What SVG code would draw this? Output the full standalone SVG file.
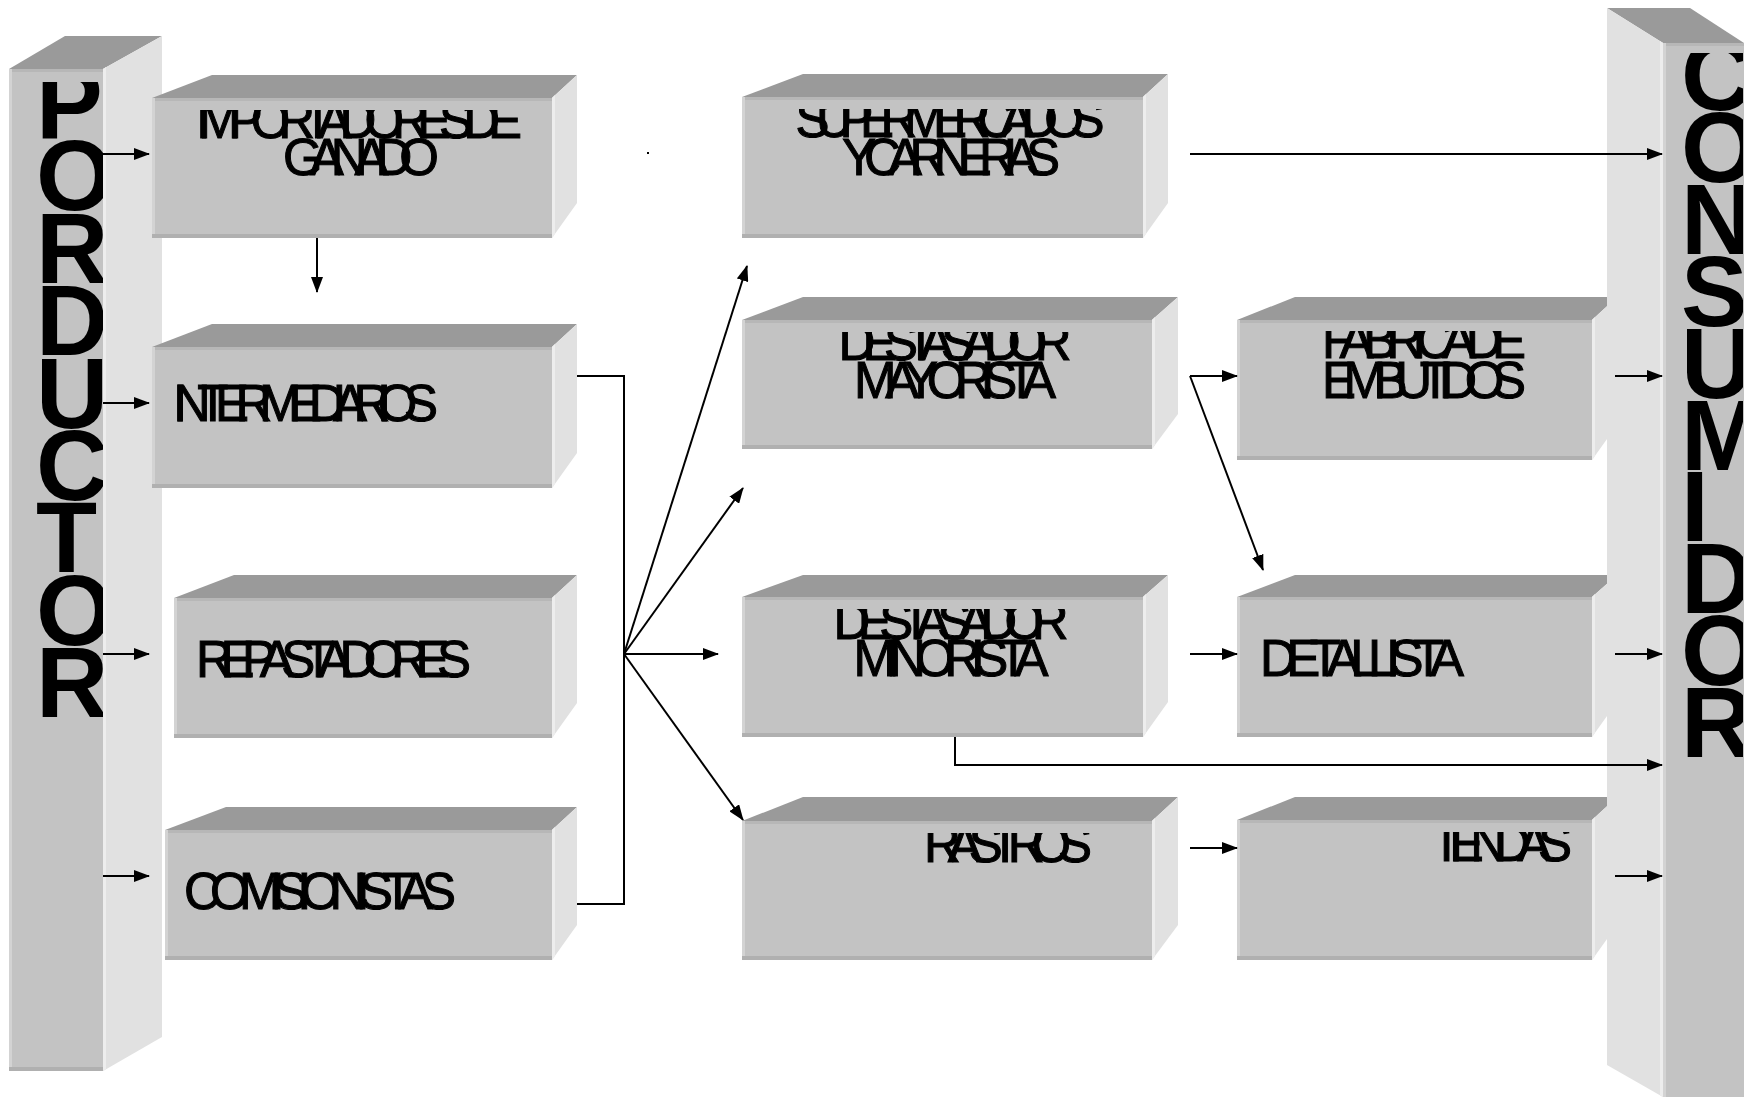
<svg xmlns="http://www.w3.org/2000/svg" width="1749" height="1099" viewBox="0 0 1749 1099">
<style>
.front{fill:#c3c3c3}
.top{fill:#9a9a9a}
.side{fill:#e1e1e1}
.ltop{fill:#b7b7b7}
.lleft{fill:#d3d3d3}
.lbot{fill:#b0b0b0}
.lside{fill:#ededed}
.lbl{font-family:"Liberation Sans",Arial,sans-serif;font-size:51px;fill:#000;stroke:#000;stroke-width:1}
.big{font-family:"Liberation Sans",Arial,sans-serif;font-size:100px;font-weight:bold;fill:#000}
.conn{fill:none;stroke:#000;stroke-width:2}
</style>
<defs>
<marker id="ah" markerWidth="16" markerHeight="12" refX="15" refY="6" orient="auto" markerUnits="userSpaceOnUse"><path d="M0,0 L16,6 L0,12 z" fill="#000"/></marker>
<clipPath id="cpProd" clipPathUnits="userSpaceOnUse"><rect x="9" y="82" width="94" height="989"/></clipPath>
<clipPath id="cpCons" clipPathUnits="userSpaceOnUse"><rect x="1663" y="53" width="80" height="1044"/></clipPath>
<clipPath id="cpImp" clipPathUnits="userSpaceOnUse"><rect x="152" y="110" width="400" height="128"/></clipPath>
<clipPath id="cpSup" clipPathUnits="userSpaceOnUse"><rect x="742" y="109" width="401" height="129"/></clipPath>
<clipPath id="cpMay" clipPathUnits="userSpaceOnUse"><rect x="742" y="332" width="410" height="117"/></clipPath>
<clipPath id="cpMin" clipPathUnits="userSpaceOnUse"><rect x="742" y="609" width="401" height="128"/></clipPath>
<clipPath id="cpRas" clipPathUnits="userSpaceOnUse"><rect x="742" y="833" width="410" height="127"/></clipPath>
<clipPath id="cpFab" clipPathUnits="userSpaceOnUse"><rect x="1237" y="331" width="355" height="129"/></clipPath>
<clipPath id="cpTie" clipPathUnits="userSpaceOnUse"><rect x="1237" y="832" width="355" height="128"/></clipPath>
</defs>
<rect x="0" y="0" width="1749" height="1099" fill="#fff"/>

<g id="productor">
<polygon class="top" points="9,69 65,36 162,36 103,69"/>
<polygon class="side" points="103,69 162,36 162,1037 103,1071"/>
<polygon class="lside" points="103,69 106,67 106,1069 103,1071"/>
<rect class="front" x="9" y="69" width="94" height="1002"/>
<rect class="ltop" x="9" y="69" width="94" height="3"/>
<rect class="lleft" x="9" y="69" width="3" height="1002"/>
<rect class="lbot" x="9" y="1067" width="94" height="4"/>
<g clip-path="url(#cpProd)">
<text class="big" x="36" y="138">P</text>
<text class="big" x="36" y="210">O</text>
<text class="big" x="36" y="283">R</text>
<text class="big" x="36" y="355">D</text>
<text class="big" x="36" y="428">U</text>
<text class="big" x="36" y="500">C</text>
<text class="big" x="36" y="572">T</text>
<text class="big" x="36" y="645">O</text>
<text class="big" x="36" y="717">R</text>
</g>
</g>

<g id="importadores">
<polygon class="top" points="152,98 212,75 577,75 552,98"/>
<polygon class="side" points="552,98 577,75 577,203 552,238"/>
<polygon class="lside" points="552,98 555,95 555,234 552,238"/>
<rect class="front" x="152" y="98" width="400" height="140"/>
<rect class="ltop" x="152" y="98" width="400" height="3"/>
<rect class="lleft" x="152" y="98" width="3" height="140"/>
<rect class="lbot" x="152" y="234" width="400" height="4"/>
<g clip-path="url(#cpImp)">
<text class="lbl" x="359" y="138" text-anchor="middle" textLength="326" lengthAdjust="spacing">IMPORTADORES DE</text>
<text class="lbl" x="361" y="175" text-anchor="middle" textLength="156" lengthAdjust="spacing">GANADO</text>
</g>
</g>

<g id="intermediarios">
<polygon class="top" points="152,347 212,324 577,324 552,347"/>
<polygon class="side" points="552,347 577,324 577,453 552,488"/>
<polygon class="lside" points="552,347 555,344 555,484 552,488"/>
<rect class="front" x="152" y="347" width="400" height="141"/>
<rect class="ltop" x="152" y="347" width="400" height="3"/>
<rect class="lleft" x="152" y="347" width="3" height="141"/>
<rect class="lbot" x="152" y="484" width="400" height="4"/>
<text class="lbl" x="173" y="421" textLength="265" lengthAdjust="spacing">INTERMEDIARIOS</text>
</g>

<g id="repastadores">
<polygon class="top" points="174,598 234,575 577,575 552,598"/>
<polygon class="side" points="552,598 577,575 577,703 552,738"/>
<polygon class="lside" points="552,598 555,595 555,734 552,738"/>
<rect class="front" x="174" y="598" width="378" height="140"/>
<rect class="ltop" x="174" y="598" width="378" height="3"/>
<rect class="lleft" x="174" y="598" width="3" height="140"/>
<rect class="lbot" x="174" y="734" width="378" height="4"/>
<text class="lbl" x="196" y="677" textLength="275" lengthAdjust="spacing">REPASTADORES</text>
</g>

<g id="comisionistas">
<polygon class="top" points="165,830 226,807 577,807 552,830"/>
<polygon class="side" points="552,830 577,807 577,925 552,960"/>
<polygon class="lside" points="552,830 555,827 555,956 552,960"/>
<rect class="front" x="165" y="830" width="387" height="130"/>
<rect class="ltop" x="165" y="830" width="387" height="3"/>
<rect class="lleft" x="165" y="830" width="3" height="130"/>
<rect class="lbot" x="165" y="956" width="387" height="4"/>
<text class="lbl" x="184" y="909" textLength="272" lengthAdjust="spacing">COMISIONISTAS</text>
</g>

<g id="supermercados">
<polygon class="top" points="742,97 803,74 1168,74 1143,97"/>
<polygon class="side" points="1143,97 1168,74 1168,203 1143,238"/>
<polygon class="lside" points="1143,97 1146,94 1146,234 1143,238"/>
<rect class="front" x="742" y="97" width="401" height="141"/>
<rect class="ltop" x="742" y="97" width="401" height="3"/>
<rect class="lleft" x="742" y="97" width="3" height="141"/>
<rect class="lbot" x="742" y="234" width="401" height="4"/>
<g clip-path="url(#cpSup)">
<text class="lbl" x="950" y="137" text-anchor="middle" textLength="309" lengthAdjust="spacing">SUPERMERCADOS</text>
<text class="lbl" x="951" y="175" text-anchor="middle" textLength="218" lengthAdjust="spacing">Y CARNERIAS</text>
</g>
</g>

<g id="destasador-mayorista">
<polygon class="top" points="742,320 803,297 1178,297 1152,320"/>
<polygon class="side" points="1152,320 1178,297 1178,414 1152,449"/>
<polygon class="lside" points="1152,320 1155,317 1155,445 1152,449"/>
<rect class="front" x="742" y="320" width="410" height="129"/>
<rect class="ltop" x="742" y="320" width="410" height="3"/>
<rect class="lleft" x="742" y="320" width="3" height="129"/>
<rect class="lbot" x="742" y="445" width="410" height="4"/>
<g clip-path="url(#cpMay)">
<text class="lbl" x="955" y="360" text-anchor="middle" textLength="233" lengthAdjust="spacing">DESTASADOR</text>
<text class="lbl" x="955" y="398" text-anchor="middle" textLength="202" lengthAdjust="spacing">MAYORISTA</text>
</g>
</g>

<g id="destasador-minorista">
<polygon class="top" points="742,597 803,575 1168,575 1143,597"/>
<polygon class="side" points="1143,597 1168,575 1168,702 1143,737"/>
<polygon class="lside" points="1143,597 1146,594 1146,733 1143,737"/>
<rect class="front" x="742" y="597" width="401" height="140"/>
<rect class="ltop" x="742" y="597" width="401" height="3"/>
<rect class="lleft" x="742" y="597" width="3" height="140"/>
<rect class="lbot" x="742" y="733" width="401" height="4"/>
<g clip-path="url(#cpMin)">
<text class="lbl" x="951" y="639" text-anchor="middle" textLength="235" lengthAdjust="spacing">DESTASADOR</text>
<text class="lbl" x="951" y="676" text-anchor="middle" textLength="195" lengthAdjust="spacing">MINORISTA</text>
</g>
</g>

<g id="rastros">
<polygon class="top" points="742,821 803,797 1178,797 1152,821"/>
<polygon class="side" points="1152,821 1178,797 1178,925 1152,960"/>
<polygon class="lside" points="1152,821 1155,818 1155,956 1152,960"/>
<rect class="front" x="742" y="821" width="410" height="139"/>
<rect class="ltop" x="742" y="821" width="410" height="3"/>
<rect class="lleft" x="742" y="821" width="3" height="139"/>
<rect class="lbot" x="742" y="956" width="410" height="4"/>
<g clip-path="url(#cpRas)">
<text class="lbl" x="924" y="862" textLength="168" lengthAdjust="spacing">RASTROS</text>
</g>
</g>

<g id="fabrica-embutidos">
<polygon class="top" points="1237,320 1295,297 1617,297 1592,320"/>
<polygon class="side" points="1592,320 1617,297 1617,425 1592,460"/>
<polygon class="lside" points="1592,320 1595,317 1595,456 1592,460"/>
<rect class="front" x="1237" y="320" width="355" height="140"/>
<rect class="ltop" x="1237" y="320" width="355" height="3"/>
<rect class="lleft" x="1237" y="320" width="3" height="140"/>
<rect class="lbot" x="1237" y="456" width="355" height="4"/>
<g clip-path="url(#cpFab)">
<text class="lbl" x="1424" y="358" text-anchor="middle" textLength="204" lengthAdjust="spacing">FABRICA DE</text>
<text class="lbl" x="1424" y="398" text-anchor="middle" textLength="204" lengthAdjust="spacing">EMBUTIDOS</text>
</g>
</g>

<g id="detallista">
<polygon class="top" points="1237,597 1295,575 1617,575 1592,597"/>
<polygon class="side" points="1592,597 1617,575 1617,702 1592,737"/>
<polygon class="lside" points="1592,597 1595,594 1595,733 1592,737"/>
<rect class="front" x="1237" y="597" width="355" height="140"/>
<rect class="ltop" x="1237" y="597" width="355" height="3"/>
<rect class="lleft" x="1237" y="597" width="3" height="140"/>
<rect class="lbot" x="1237" y="733" width="355" height="4"/>
<text class="lbl" x="1260" y="676" textLength="204" lengthAdjust="spacing">DETALLISTA</text>
</g>

<g id="tiendas">
<polygon class="top" points="1237,820 1295,797 1617,797 1592,820"/>
<polygon class="side" points="1592,820 1617,797 1617,925 1592,960"/>
<polygon class="lside" points="1592,820 1595,817 1595,956 1592,960"/>
<rect class="front" x="1237" y="820" width="355" height="140"/>
<rect class="ltop" x="1237" y="820" width="355" height="3"/>
<rect class="lleft" x="1237" y="820" width="3" height="140"/>
<rect class="lbot" x="1237" y="956" width="355" height="4"/>
<g clip-path="url(#cpTie)">
<text class="lbl" x="1431" y="861" textLength="141" lengthAdjust="spacing">TIENDAS</text>
</g>
</g>

<g id="consumidor">
<polygon class="top" points="1607,8 1690,8 1744,43 1663,43"/>
<polygon class="side" points="1607,8 1663,43 1663,1097 1607,1065"/>
<polygon class="lside" points="1660,41 1663,43 1663,1097 1660,1095"/>
<rect class="front" x="1663" y="43" width="81" height="1054"/>
<rect class="ltop" x="1663" y="43" width="81" height="3"/>
<rect class="lleft" x="1663" y="43" width="3" height="1054"/>
<g clip-path="url(#cpCons)">
<text class="big" x="1681" y="110">C</text>
<text class="big" x="1681" y="182">O</text>
<text class="big" x="1681" y="254">N</text>
<text class="big" x="1681" y="326">S</text>
<text class="big" x="1681" y="398">U</text>
<text class="big" x="1681" y="470">M</text>
<text class="big" x="1681" y="541">I</text>
<text class="big" x="1681" y="613">D</text>
<text class="big" x="1681" y="685">O</text>
<text class="big" x="1681" y="757">R</text>
</g>
</g>

<g id="connectors">
<path class="conn" d="M103,154 H149" marker-end="url(#ah)"/>
<path class="conn" d="M103,403 H149" marker-end="url(#ah)"/>
<path class="conn" d="M103,654 H149" marker-end="url(#ah)"/>
<path class="conn" d="M103,876 H149" marker-end="url(#ah)"/>
<path class="conn" d="M317,238 V292" marker-end="url(#ah)"/>
<path class="conn" d="M577,376 H624 V904 H577"/>
<path class="conn" d="M624,654 L747,266" marker-end="url(#ah)"/>
<path class="conn" d="M624,654 L743,488" marker-end="url(#ah)"/>
<path class="conn" d="M624,654 H718" marker-end="url(#ah)"/>
<path class="conn" d="M624,654 L743,820" marker-end="url(#ah)"/>
<path class="conn" d="M1190,154 H1662" marker-end="url(#ah)"/>
<path class="conn" d="M1190,376 H1237" marker-end="url(#ah)"/>
<path class="conn" d="M1190,376 L1263,570" marker-end="url(#ah)"/>
<path class="conn" d="M1615,376 H1662" marker-end="url(#ah)"/>
<path class="conn" d="M1190,654 H1237" marker-end="url(#ah)"/>
<path class="conn" d="M1615,654 H1662" marker-end="url(#ah)"/>
<path class="conn" d="M955,737 V765 H1662" marker-end="url(#ah)"/>
<path class="conn" d="M1190,848 H1237" marker-end="url(#ah)"/>
<path class="conn" d="M1615,876 H1662" marker-end="url(#ah)"/>
<rect x="647" y="152" width="2" height="2" fill="#000"/>
</g>
</svg>
